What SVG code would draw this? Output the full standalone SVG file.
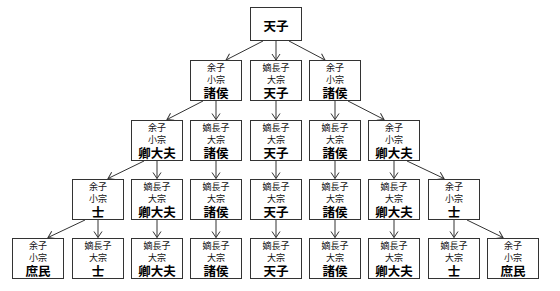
<svg xmlns="http://www.w3.org/2000/svg" width="560" height="291" viewBox="0 0 560 291">
<style>
.bx{fill:#fff;stroke:#333;stroke-width:1}
.s{font-family:"Liberation Sans","Noto Sans CJK JP","Noto Sans CJK SC",sans-serif;font-size:9px;fill:#111;text-anchor:middle}
.b{font-family:"Liberation Sans","Noto Sans CJK JP","Noto Sans CJK SC",sans-serif;font-size:12.5px;font-weight:bold;fill:#000;text-anchor:middle}
.c{fill:none;stroke:#333;stroke-width:1;marker-end:url(#ah)}
</style>
<defs>
<marker id="ah" viewBox="-7 -5 8 10" refX="0" refY="0" markerWidth="8" markerHeight="10" markerUnits="userSpaceOnUse" orient="auto">
<path d="M-6,-4 L0,0 L-6,4" fill="none" stroke="#333" stroke-width="1"/>
</marker>
</defs>
<rect width="560" height="291" fill="#fff"/>
<g id="connectors">
<path class="c" d="M263,41 L226,60"/>
<path class="c" d="M276,41 L276,60"/>
<path class="c" d="M289,41 L325,60"/>
<path class="c" d="M203,101 L167,119.5"/>
<path class="c" d="M216,101 L216,119.5"/>
<path class="c" d="M276,101 L276,119.5"/>
<path class="c" d="M335,101 L335,119.5"/>
<path class="c" d="M348,101 L384,119.5"/>
<path class="c" d="M144,161 L108,178.5"/>
<path class="c" d="M157,161 L157,178.5"/>
<path class="c" d="M216,161 L216,178.5"/>
<path class="c" d="M276,161 L276,178.5"/>
<path class="c" d="M335,161 L335,178.5"/>
<path class="c" d="M394,161 L394,178.5"/>
<path class="c" d="M407,161 L444,178.5"/>
<path class="c" d="M85,220 L48,237.5"/>
<path class="c" d="M98,220 L98,237.5"/>
<path class="c" d="M157,220 L157,237.5"/>
<path class="c" d="M216,220 L216,237.5"/>
<path class="c" d="M276,220 L276,237.5"/>
<path class="c" d="M335,220 L335,237.5"/>
<path class="c" d="M394,220 L394,237.5"/>
<path class="c" d="M454,220 L454,237.5"/>
<path class="c" d="M467,220 L503,237.5"/>
</g>
<g id="n1-4"><rect class="bx" x="250.5" y="7.5" width="51" height="33"/><text class="b" x="276" y="31">天子</text></g>
<g id="n2-3"><rect class="bx" x="190.5" y="60.5" width="51" height="40"/><text class="s" x="216" y="71">余子</text><text class="s" x="216" y="83">小宗</text><text class="b" x="216" y="97.5">諸侯</text></g>
<g id="n2-4"><rect class="bx" x="250.5" y="60.5" width="51" height="40"/><text class="s" x="276" y="71">嫡長子</text><text class="s" x="276" y="83">大宗</text><text class="b" x="276" y="97.5">天子</text></g>
<g id="n2-5"><rect class="bx" x="309.5" y="60.5" width="51" height="40"/><text class="s" x="335" y="71">余子</text><text class="s" x="335" y="83">小宗</text><text class="b" x="335" y="97.5">諸侯</text></g>
<g id="n3-2"><rect class="bx" x="131.5" y="120.5" width="51" height="40"/><text class="s" x="157" y="131">余子</text><text class="s" x="157" y="143">小宗</text><text class="b" x="157" y="157.5">卿大夫</text></g>
<g id="n3-3"><rect class="bx" x="190.5" y="120.5" width="51" height="40"/><text class="s" x="216" y="131">嫡長子</text><text class="s" x="216" y="143">大宗</text><text class="b" x="216" y="157.5">諸侯</text></g>
<g id="n3-4"><rect class="bx" x="250.5" y="120.5" width="51" height="40"/><text class="s" x="276" y="131">嫡長子</text><text class="s" x="276" y="143">大宗</text><text class="b" x="276" y="157.5">天子</text></g>
<g id="n3-5"><rect class="bx" x="309.5" y="120.5" width="51" height="40"/><text class="s" x="335" y="131">嫡長子</text><text class="s" x="335" y="143">大宗</text><text class="b" x="335" y="157.5">諸侯</text></g>
<g id="n3-6"><rect class="bx" x="368.5" y="120.5" width="51" height="40"/><text class="s" x="394" y="131">余子</text><text class="s" x="394" y="143">小宗</text><text class="b" x="394" y="157.5">卿大夫</text></g>
<g id="n4-1"><rect class="bx" x="72.5" y="179.5" width="51" height="40"/><text class="s" x="98" y="190">余子</text><text class="s" x="98" y="202">小宗</text><text class="b" x="98" y="216.5">士</text></g>
<g id="n4-2"><rect class="bx" x="131.5" y="179.5" width="51" height="40"/><text class="s" x="157" y="190">嫡長子</text><text class="s" x="157" y="202">大宗</text><text class="b" x="157" y="216.5">卿大夫</text></g>
<g id="n4-3"><rect class="bx" x="190.5" y="179.5" width="51" height="40"/><text class="s" x="216" y="190">嫡長子</text><text class="s" x="216" y="202">大宗</text><text class="b" x="216" y="216.5">諸侯</text></g>
<g id="n4-4"><rect class="bx" x="250.5" y="179.5" width="51" height="40"/><text class="s" x="276" y="190">嫡長子</text><text class="s" x="276" y="202">大宗</text><text class="b" x="276" y="216.5">天子</text></g>
<g id="n4-5"><rect class="bx" x="309.5" y="179.5" width="51" height="40"/><text class="s" x="335" y="190">嫡長子</text><text class="s" x="335" y="202">大宗</text><text class="b" x="335" y="216.5">諸侯</text></g>
<g id="n4-6"><rect class="bx" x="368.5" y="179.5" width="51" height="40"/><text class="s" x="394" y="190">嫡長子</text><text class="s" x="394" y="202">大宗</text><text class="b" x="394" y="216.5">卿大夫</text></g>
<g id="n4-7"><rect class="bx" x="428.5" y="179.5" width="51" height="40"/><text class="s" x="454" y="190">余子</text><text class="s" x="454" y="202">小宗</text><text class="b" x="454" y="216.5">士</text></g>
<g id="n5-0"><rect class="bx" x="12.5" y="238.5" width="51" height="40"/><text class="s" x="38" y="249">余子</text><text class="s" x="38" y="261">小宗</text><text class="b" x="38" y="275.5">庶民</text></g>
<g id="n5-1"><rect class="bx" x="72.5" y="238.5" width="51" height="40"/><text class="s" x="98" y="249">嫡長子</text><text class="s" x="98" y="261">大宗</text><text class="b" x="98" y="275.5">士</text></g>
<g id="n5-2"><rect class="bx" x="131.5" y="238.5" width="51" height="40"/><text class="s" x="157" y="249">嫡長子</text><text class="s" x="157" y="261">大宗</text><text class="b" x="157" y="275.5">卿大夫</text></g>
<g id="n5-3"><rect class="bx" x="190.5" y="238.5" width="51" height="40"/><text class="s" x="216" y="249">嫡長子</text><text class="s" x="216" y="261">大宗</text><text class="b" x="216" y="275.5">諸侯</text></g>
<g id="n5-4"><rect class="bx" x="250.5" y="238.5" width="51" height="40"/><text class="s" x="276" y="249">嫡長子</text><text class="s" x="276" y="261">大宗</text><text class="b" x="276" y="275.5">天子</text></g>
<g id="n5-5"><rect class="bx" x="309.5" y="238.5" width="51" height="40"/><text class="s" x="335" y="249">嫡長子</text><text class="s" x="335" y="261">大宗</text><text class="b" x="335" y="275.5">諸侯</text></g>
<g id="n5-6"><rect class="bx" x="368.5" y="238.5" width="51" height="40"/><text class="s" x="394" y="249">嫡長子</text><text class="s" x="394" y="261">大宗</text><text class="b" x="394" y="275.5">卿大夫</text></g>
<g id="n5-7"><rect class="bx" x="428.5" y="238.5" width="51" height="40"/><text class="s" x="454" y="249">嫡長子</text><text class="s" x="454" y="261">大宗</text><text class="b" x="454" y="275.5">士</text></g>
<g id="n5-8"><rect class="bx" x="487.5" y="238.5" width="51" height="40"/><text class="s" x="513" y="249">余子</text><text class="s" x="513" y="261">小宗</text><text class="b" x="513" y="275.5">庶民</text></g>
</svg>
